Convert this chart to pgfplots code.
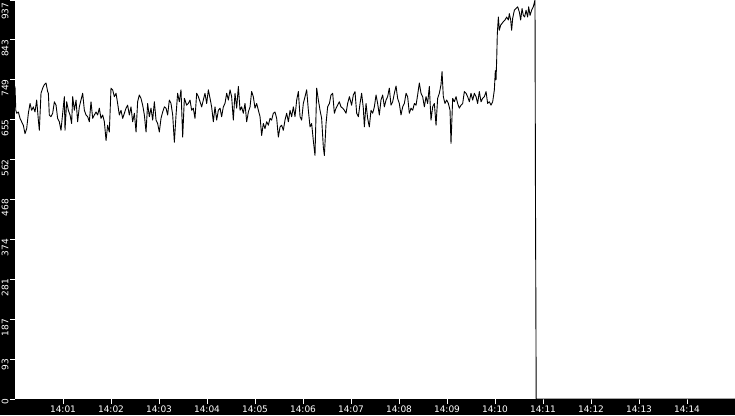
\documentclass[border=0pt]{standalone}
\usepackage{fontspec}
\setmainfont{DejaVu Sans}
\usepackage{pgfplots}
\pgfplotsset{compat=1.18}
\begin{document}
\begin{tikzpicture}[x=1pt,y=1pt]
\useasboundingbox (0,0) rectangle (735,415);
\fill[black] (0,0) rectangle (735,415);
\begin{axis}[
  at={(15pt,16pt)}, anchor=south west,
  scale only axis, width=720pt, height=399pt,
  xmin=0, xmax=900, ymin=0, ymax=937,
  axis background/.style={fill=white},
  axis line style={draw=none},
  clip=false,
  tick align=outside,
  major tick length=5pt,
  tick style={white, line width=0.8pt},
  xtick pos=left, ytick pos=left,
  xtick={60,120,180,240,300,360,420,480,540,600,660,720,780,840},
  xticklabels={14:01,14:02,14:03,14:04,14:05,14:06,14:07,14:08,14:09,14:10,14:11,14:12,14:13,14:14},
  ytick={0,93.7,187.4,281.1,374.8,468.5,562.2,655.9,749.6,843.3,937},
  yticklabels={0,93,187,281,374,468,562,655,749,843,937\hspace*{3pt}},
  ticklabel style={font=\fontsize{9}{10}\selectfont, text=white},
  yticklabel style={rotate=90, anchor=base east, inner sep=0pt, yshift=1.5pt, xshift=0.5pt},
  xticklabel style={anchor=north, inner sep=0pt, yshift=-1.5pt},
]
\addplot[black, line width=0.9pt, line join=round] table {
x y
0 734
1.0 678
2.1 671
4.2 674
6.3 659
8.3 651
10.4 643
12.5 623
14.6 635
16.7 671
18.8 694
20.8 678
22.9 686
25.0 674
27.1 702
29.2 655
30.4 631
32.5 718
34.6 730
36.7 738
38.8 742
40.8 722
41.7 718
42.9 667
45.0 663
47.1 671
49.2 698
51.3 690
53.3 659
55.4 651
57.5 631
59.6 671
61.7 710
62.5 631
64.6 698
66.7 678
68.8 667
70.8 647
72.1 710
74.2 678
76.3 702
78.3 651
80.4 686
82.5 702
84.6 718
86.7 678
88.8 667
90.8 663
92.9 651
95.0 698
97.1 659
99.2 667
101.3 674
103.3 667
105.4 683
107.5 659
109.6 667
111.7 651
113.8 607
115.8 643
117.9 627
120.0 730
122.1 726
124.2 710
126.3 718
128.3 694
130.4 667
132.5 678
134.6 659
136.7 671
138.8 683
140.8 690
142.9 667
145.0 686
147.1 651
149.2 671
151.3 627
153.3 698
155.4 714
157.5 706
159.6 690
161.7 667
163.8 627
165.8 694
167.9 663
170.0 683
172.1 655
174.2 698
176.3 655
178.3 647
180.4 627
182.5 659
184.6 674
186.7 686
188.8 683
190.8 667
192.9 702
195.0 694
197.1 667
199.2 603
201.3 667
203.3 718
205.4 698
207.5 726
209.6 615
211.7 706
212.5 702
214.6 690
216.7 694
218.8 702
220.8 678
222.9 683
225.0 659
227.1 718
229.2 710
231.3 698
233.3 686
235.4 702
237.5 718
239.6 694
241.7 726
243.8 706
245.8 686
247.9 651
250.0 686
252.1 655
254.2 678
256.3 683
258.3 663
260.4 686
262.5 694
264.6 718
266.7 702
268.8 726
270.8 710
272.9 655
275.0 718
277.1 683
279.2 734
281.3 678
283.3 686
285.4 671
287.5 694
289.6 651
291.7 674
293.8 686
295.8 722
297.9 710
300.0 683
302.1 694
304.2 678
306.3 663
308.3 619
310.4 647
312.5 635
314.6 651
316.7 643
318.8 659
320.8 655
322.9 671
325.0 674
327.1 659
329.2 615
331.3 639
333.3 643
335.4 631
337.5 655
339.6 671
341.7 651
343.8 678
345.8 663
347.9 686
350.0 663
352.1 702
354.2 722
356.3 663
358.3 655
360.4 694
362.5 710
364.6 726
366.7 678
368.8 639
370.8 647
372.9 607
375.0 572
377.1 730
379.2 702
381.3 678
383.3 659
385.4 592
386.7 572
388.8 647
390.8 686
393.0 694
395.0 714
397.1 718
399.2 671
401.3 683
403.3 690
405.4 698
407.5 686
409.6 683
411.7 678
413.8 671
415.8 694
418.0 710
420.8 690
422.9 714
425.0 722
427.1 671
429.2 663
431.3 694
433.3 718
435.4 683
436.7 639
438.8 694
440.8 659
442.9 639
445.0 678
447.1 671
449.2 686
451.3 714
453.3 694
455.4 667
457.5 702
459.6 714
461.7 686
463.8 702
465.8 710
467.9 730
470.0 690
472.1 698
474.2 718
476.3 735
478.3 706
480.4 694
482.5 667
484.6 686
486.7 694
488.8 718
490.8 710
492.9 671
495.0 683
497.1 678
499.2 694
501.3 690
503.3 714
505.4 742
507.5 718
509.6 710
511.7 686
513.8 710
515.8 694
517.9 734
520.0 655
522.1 686
524.2 694
526.3 643
528.3 706
530.4 718
532.5 738
533.8 769
535.4 710
537.5 694
539.6 702
541.7 694
543.8 678
545.0 600
547.1 706
549.2 698
551.3 710
553.3 694
555.4 683
557.5 690
559.6 694
561.7 722
563.8 718
565.8 710
567.9 698
570.0 718
572.1 702
574.2 718
576.3 710
578.3 694
580.4 722
582.5 698
584.6 706
586.7 710
588.8 722
590.8 694
592.9 698
595.0 690
597.1 698
599.2 726
600.4 771
601.3 750
602.1 796
602.9 858
604.2 897
605.4 866
607.1 878
608.8 882
610.4 886
612.5 890
614.6 897
616.7 890
617.9 905
619.6 890
620.8 866
622.1 894
624.2 913
626.3 917
628.3 921
630.4 909
632.1 890
633.8 917
635.4 901
637.1 897
638.8 913
640.8 897
642.1 921
643.8 901
645.8 913
647.9 921
650.0 937
650.6 470
651.5 0
900 0
};
\end{axis}
\end{tikzpicture}
\end{document}
